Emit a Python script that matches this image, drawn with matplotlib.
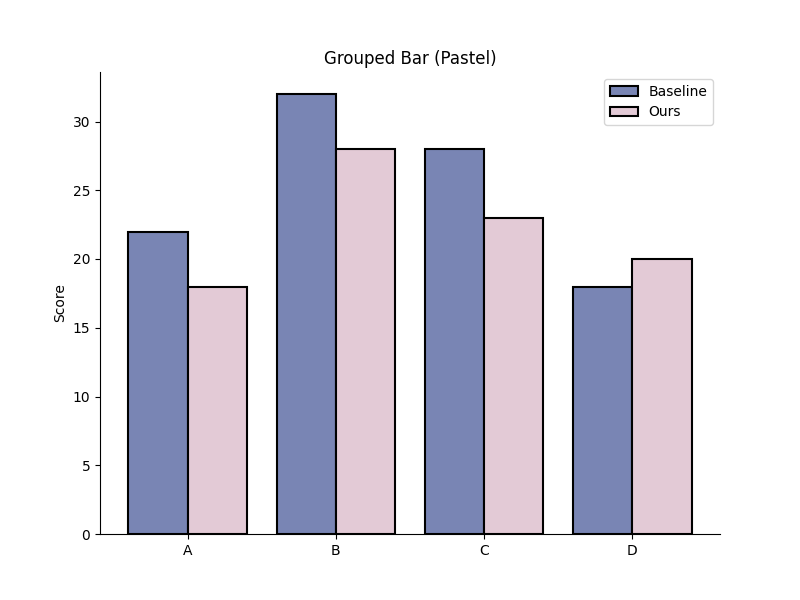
import matplotlib
matplotlib.use("Agg")
import matplotlib.pyplot as plt
import numpy as np

categories = ["A", "B", "C", "D"]
baseline = [22, 32, 28, 18]
ours = [18, 28, 23, 20]

x = np.arange(len(categories))
w = 0.4

fig, ax = plt.subplots(figsize=(8, 6), dpi=100)
ax.bar(x - w / 2, baseline, w, color="#7985b4", edgecolor="black", linewidth=1.5, label="Baseline")
ax.bar(x + w / 2, ours, w, color="#e3cad6", edgecolor="black", linewidth=1.5, label="Ours")

ax.set_xticks(x)
ax.set_xticklabels(categories)
ax.set_ylabel("Score")
ax.set_title("Grouped Bar (Pastel)")
ax.legend()
ax.spines["top"].set_visible(False)
ax.spines["right"].set_visible(False)

plt.savefig("out.png")
